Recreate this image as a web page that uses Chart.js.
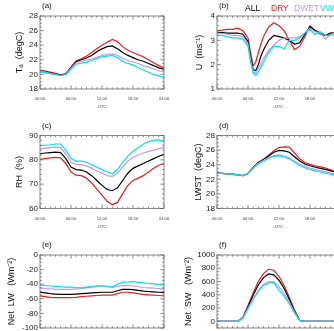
<!DOCTYPE html>
<html><head><meta charset="utf-8">
<script src="https://cdn.jsdelivr.net/npm/chart.js@4/dist/chart.umd.min.js"></script>
<style>
html,body{margin:0;padding:0;background:#fff;overflow:hidden;}
#wrap{position:relative;width:334px;height:331px;overflow:hidden;background:#fff;}
#wrap canvas{position:absolute;left:0;top:0;}
</style></head><body><div id="wrap"></div>
<script>
// ---------- data ----------
const seriesNames = ['ALL', 'DRY', 'DWET', 'VWET'];
const hours = [0,1,2,3,4,5,6,7,8,9,10,11,12,13,14,15,16,17,18,19,20,21,22,23,24];
const uHours = [0,1,2,3,4,5,6,6.5,7,7.5,8,8.5,9,10,11,12,13,14,15,16,17,18,19,20,21,22,23,24];
const xTickLabels = ['00:00', '06:00', '12:00', '18:00', '24:00'];
const xTitle = 'UTC';

// (a) air temperature
const taAll  = [20.5,20.35,20.2,20.05,19.9,20.05,20.95,21.75,22.0,22.25,22.6,23.1,23.5,23.8,23.9,23.5,23.0,22.6,22.3,22.0,21.8,21.5,21.2,20.9,20.7];
const taDry  = [20.6,20.45,20.3,20.15,19.95,20.1,21.0,21.85,22.15,22.5,23.0,23.5,24.0,24.4,24.8,24.5,23.8,23.3,23.0,22.7,22.4,22.0,21.6,21.2,20.9];
const taDwet = [20.45,20.3,20.15,20.0,19.85,20.0,20.85,21.6,21.8,21.95,22.1,22.35,22.6,22.7,22.8,22.6,22.2,21.9,21.7,21.5,21.2,21.0,20.75,20.5,20.3];
const taVwet = [20.3,20.2,20.1,19.95,19.85,19.95,20.7,21.4,21.55,21.65,21.9,22.2,22.4,22.5,22.6,22.3,21.8,21.5,21.3,20.95,20.6,20.3,20.0,19.8,19.6];

// (b) wind speed (on uHours)
const uAll  = [3.33,3.32,3.3,3.3,3.3,3.25,2.95,2.3,1.8,1.75,2.0,2.35,2.6,3.0,3.2,3.15,3.1,3.0,2.85,2.9,3.25,3.55,3.4,3.3,3.2,3.3,3.3,3.25];
const uDry  = [3.4,3.42,3.45,3.45,3.5,3.4,3.1,2.5,1.95,2.1,2.5,2.85,3.15,3.55,3.72,3.6,3.4,3.0,2.62,2.75,3.15,3.6,3.4,3.25,3.2,3.3,3.3,3.25];
const uDwet = [3.3,3.28,3.25,3.2,3.2,3.15,2.85,2.2,1.7,1.65,1.85,2.05,2.25,2.6,2.8,3.0,3.1,3.1,3.1,3.15,3.3,3.5,3.35,3.3,3.05,3.25,3.3,3.3];
const uVwet = [3.22,3.2,3.15,3.1,3.1,3.05,2.75,2.1,1.65,1.55,1.7,1.9,2.1,2.5,2.75,2.75,2.65,3.0,3.0,3.1,3.3,3.45,3.25,3.35,3.2,3.2,3.3,3.3];

// (c) relative humidity
const rhAll  = [82.5,82.8,83.0,83.2,83.0,80.5,77.0,76.0,75.8,75.0,73.5,71.5,69.5,67.8,67.3,68.5,71.5,74.5,76.5,77.5,78.5,79.5,80.5,81.5,82.3];
const rhDry  = [80.2,80.5,80.8,81.0,80.8,78.5,75.0,73.7,73.5,72.5,70.5,68.0,65.5,63.0,61.5,62.5,66.0,69.5,71.5,72.5,73.5,75.0,76.5,77.8,78.5];
const rhDwet = [84.5,84.8,85.0,85.2,85.0,82.5,79.0,78.0,78.0,77.5,76.5,75.5,74.5,73.5,73.2,74.5,77.0,79.5,81.0,82.0,82.8,83.5,84.0,84.5,85.0];
const rhVwet = [85.8,86.0,86.2,86.5,86.5,84.0,80.5,79.5,79.5,79.0,78.0,77.0,76.0,75.0,74.3,76.0,79.0,81.5,83.5,85.0,86.5,87.5,88.0,88.2,87.5];

// (d) lake water surface temperature
const lwstAll  = [22.85,22.8,22.75,22.7,22.6,22.5,22.8,23.6,24.3,24.7,25.2,25.7,25.95,25.9,25.7,25.1,24.5,24.1,23.85,23.65,23.5,23.35,23.15,22.95,22.8];
const lwstDry  = [22.85,22.8,22.75,22.7,22.6,22.5,22.8,23.6,24.3,24.75,25.3,25.9,26.35,26.45,26.4,25.6,24.8,24.3,24.05,23.85,23.7,23.55,23.3,23.1,22.9];
const lwstDwet = [22.85,22.8,22.75,22.7,22.6,22.5,22.8,23.55,24.2,24.6,24.95,25.25,25.35,25.2,24.95,24.5,24.1,23.8,23.55,23.35,23.2,23.05,22.85,22.7,22.6];
const lwstVwet = [22.85,22.8,22.75,22.7,22.6,22.5,22.75,23.5,24.1,24.5,24.85,25.15,25.2,25.05,24.8,24.35,23.9,23.6,23.35,23.15,23.0,22.85,22.7,22.55,22.45];

// (e) net longwave
const lwAll  = [-51,-52,-53,-53.5,-54,-54,-54,-53.5,-53,-52.5,-52,-51.5,-51,-51,-51,-49,-47,-47,-47.5,-48.5,-49.5,-50,-50.5,-51,-51.5];
const lwDry  = [-56,-57,-58,-58.5,-58.5,-58.5,-58.5,-58,-57,-56.5,-56,-55.5,-55,-55,-55,-53,-51,-51,-52,-53,-54,-54.5,-55,-55.5,-56];
const lwDwet = [-45,-46,-46.5,-47,-47,-47,-47,-46.5,-46,-45,-44,-43,-42,-43.5,-44,-43,-42,-42,-42.5,-43.5,-44.5,-45,-45.5,-46,-46.5];
const lwVwet = [-41,-42,-42.5,-43,-43.5,-44,-44,-44.5,-45,-44,-43,-42.5,-42,-43,-44,-40,-37.5,-37,-36.5,-37.5,-38,-39,-39.5,-40.5,-41];

// (f) net shortwave
const swAll  = [0,0,0,0,0,55,220,395,550,660,715,700,620,495,330,155,14,0,0,0,0,0,0,0,0];
const swDry  = [0,0,0,0,0,60,240,430,600,720,785,770,680,540,360,170,15,0,0,0,0,0,0,0,0];
const swDwet = [0,0,0,0,0,50,200,340,465,560,600,600,520,420,290,140,12,0,0,0,0,0,0,0,0];
const swVwet = [0,0,0,0,0,48,190,330,450,545,575,585,470,380,265,128,10,0,0,0,0,0,0,0,0];

// ---------- styles ----------
const colors = ['#000000', '#ee1c24', '#c39be6', '#00e0f0'];
const drawOrder = [2, 3, 1, 0];
const FONT = "'Liberation Sans', Arial, Helvetica, sans-serif";
const W = 360, H = 331;

const panels = [
  {letter:'(a)', title:'Tₐ  (degC)', xs:hours, vals:[taAll,taDry,taDwet,taVwet], min:18, max:28, step:2, minor:0.5,
   box:{l:40,t:16,r:164,b:89}, titleX:20, legend:false},
  {letter:'(b)', title:'U  (ms⁻¹)', xs:uHours, vals:[uAll,uDry,uDwet,uVwet], min:1, max:4, step:1, minor:0.2,
   box:{l:217,t:16,r:341,b:89}, titleX:200, legend:true},
  {letter:'(c)', title:'RH  (%)', xs:hours, vals:[rhAll,rhDry,rhDwet,rhVwet], min:60, max:90, step:10, minor:2,
   box:{l:40,t:135.5,r:164,b:208.5}, titleX:20, legend:false},
  {letter:'(d)', title:'LWST  (degC)', xs:hours, vals:[lwstAll,lwstDry,lwstDwet,lwstVwet], min:18, max:28, step:2, minor:0.5,
   box:{l:217,t:135.5,r:341,b:208.5}, titleX:199, legend:false},
  {letter:'(e)', title:'Net  LW   (Wm⁻²)', xs:hours, vals:[lwAll,lwDry,lwDwet,lwVwet], min:-100, max:0, step:20, minor:5,
   box:{l:40,t:255,r:164,b:328}, titleX:12, legend:false},
  {letter:'(f)', title:'Net  SW   (Wm⁻²)', xs:hours, vals:[swAll,swDry,swDwet,swVwet], min:-100, max:1000, step:200, minor:50,
   box:{l:217,t:255,r:341,b:328}, titleX:189, legend:false}
];

const legendX = [245, 271, 294, 320];

const boxPlugin = {
  id: 'boxTicks',
  afterDatasetsDraw(chart, args, o) {
    const {ctx, chartArea: a} = chart;
    const xs = chart.scales.x, ys = chart.scales.y;
    ctx.save();
    ctx.strokeStyle = '#6a6a6a';
    ctx.lineWidth = 0.8;
    ctx.strokeRect(a.left, a.top, a.right - a.left, a.bottom - a.top);
    ctx.beginPath();
    for (let v = 0; v <= 24 + 1e-9; v += 1) {
      const px = xs.getPixelForValue(v);
      const len = (v % 6 === 0) ? 3.5 : 1.8;
      ctx.moveTo(px, a.bottom); ctx.lineTo(px, a.bottom - len);
      ctx.moveTo(px, a.top); ctx.lineTo(px, a.top + len);
    }
    const n = Math.round((o.max - o.min) / o.minor);
    for (let i = 0; i <= n; i++) {
      const v = o.min + i * o.minor;
      const py = ys.getPixelForValue(v);
      const r = v / o.step;
      const len = Math.abs(r - Math.round(r)) < 1e-6 ? 3.5 : 1.8;
      ctx.moveTo(a.left, py); ctx.lineTo(a.left + len, py);
      ctx.moveTo(a.right, py); ctx.lineTo(a.right - len, py);
    }
    ctx.stroke();
    ctx.fillStyle = '#111';
    ctx.font = '8px ' + FONT;
    ctx.textBaseline = 'middle';
    ctx.textAlign = 'left';
    ctx.fillText(o.letter, a.left + 2, a.top - 10);
    if (o.legend) {
      ctx.font = '8.5px ' + FONT;
      chart.data.datasets.forEach((ds, i) => {
        ctx.fillStyle = ds.borderColor;
        ctx.fillText(ds.label, legendX[i], 8.5);
      });
    }
    ctx.restore();
  }
};

const wrap = document.getElementById('wrap');
panels.forEach(p => {
  const cv = document.createElement('canvas');
  cv.width = W; cv.height = H;
  cv.style.width = W + 'px'; cv.style.height = H + 'px';
  wrap.appendChild(cv);
  const titleSize = 9;
  const titleLH = titleSize * 1.2;
  const padLeft = p.titleX - titleLH / 2;
  const xFont = 4.2;
  const xAxisH = 18 + xFont * 0.6;
  new Chart(cv.getContext('2d'), {
    type: 'line',
    data: {
      datasets: seriesNames.map((name, i) => ({
        label: name,
        data: p.xs.map((x, k) => ({x: x, y: p.vals[i][k]})),
        borderColor: colors[i],
        backgroundColor: colors[i],
        borderWidth: 1.2,
        pointRadius: 0,
        fill: false,
        tension: 0,
        order: drawOrder[i]
      }))
    },
    options: {
      responsive: false,
      animation: false,
      events: [],
      layout: {padding: {left: padLeft, top: p.box.t, right: W - p.box.r, bottom: H - (p.box.b + xAxisH)}},
      plugins: {
        legend: {display: false},
        tooltip: {enabled: false},
        boxTicks: {letter: p.letter, legend: p.legend, min: p.min, max: p.max, step: p.step, minor: p.minor}
      },
      scales: {
        x: {
          type: 'linear', min: 0, max: 24,
          grid: {display: false, drawTicks: false},
          border: {display: false},
          ticks: {stepSize: 6, autoSkip: false, maxRotation: 0, padding: 7.5, color: '#444',
                  font: {size: xFont, family: FONT},
                  callback: v => xTickLabels[Math.round(v / 6)]},
          title: {display: true, text: xTitle, color: '#444', font: {size: xFont, family: FONT}, padding: 0},
          afterFit: s => { s.height = xAxisH; s.paddingLeft = 0; s.paddingRight = 0; }
        },
        y: {
          type: 'linear', min: p.min, max: p.max,
          grid: {display: false, drawTicks: false},
          border: {display: false},
          ticks: {stepSize: p.step, includeBounds: false, padding: 2, color: '#222', font: {size: 8, family: FONT},
                  callback: v => String(v)},
          title: {display: true, text: p.title, color: '#111', font: {size: titleSize, family: FONT}, padding: 0},
          afterFit: s => { s.width = p.box.l - padLeft; s.paddingTop = 0; s.paddingBottom = 0; }
        }
      }
    },
    plugins: [boxPlugin]
  });
});
</script></body></html>
